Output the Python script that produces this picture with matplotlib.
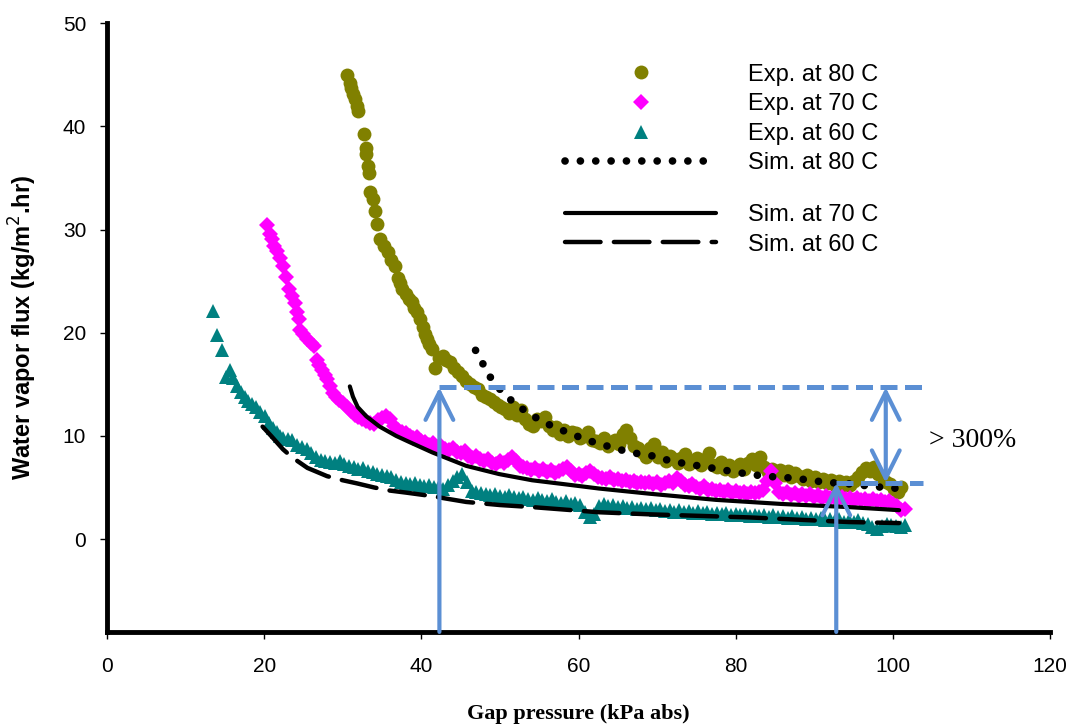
import matplotlib
matplotlib.use("Agg")
import matplotlib.pyplot as plt

# Experimental flux readings (gap pressure kPa abs, flux kg/m2.hr)
exp80_x = [30.6, 30.9, 31.1, 31.3, 31.5, 31.8, 32.0, 32.7, 32.9, 33.0, 33.2, 33.4,
           33.5, 33.8, 34.1, 34.4, 34.7, 35.2, 35.7, 36.2, 36.6, 37.0, 37.3, 37.6,
           38.0, 38.4, 38.8, 39.1, 39.4, 39.8, 40.2, 40.5, 40.7, 41.0, 41.3, 41.7,
           42.2, 42.7, 43.2, 43.7, 44.2, 44.7, 45.2, 45.7, 46.2, 46.7, 47.2, 47.7,
           48.2, 48.7, 49.2, 49.7, 50.2, 50.7, 51.2, 51.7, 52.2, 52.7, 53.2, 53.7,
           54.2, 54.7, 55.2, 55.7, 56.2, 56.7, 57.2, 57.7, 58.2, 58.7, 59.2, 59.7,
           60.2, 60.7, 61.2, 61.7, 62.2, 62.7, 63.2, 63.7, 64.2, 64.7, 65.2, 65.7,
           66.1, 66.6, 67.1, 67.6, 68.1, 68.6, 69.1, 69.6, 70.1, 70.6, 71.1, 71.6,
           72.1, 72.6, 73.1, 73.6, 74.1, 74.6, 75.1, 75.6, 76.1, 76.6, 77.1, 77.6,
           78.1, 78.6, 79.1, 79.6, 80.1, 80.6, 81.1, 81.6, 82.1, 82.6, 83.1, 83.6,
           84.1, 84.6, 85.1, 85.6, 86.1, 86.6, 87.1, 87.6, 88.1, 88.6, 89.1, 89.6,
           90.1, 90.6, 91.1, 91.6, 92.1, 92.6, 93.1, 93.6, 94.1, 94.6, 95.1, 95.6,
           96.1, 96.6, 97.1, 97.6, 98.1, 98.6, 99.1, 99.6, 100.1, 100.6, 101.0]
exp80_y = [45.0, 44.2, 43.7, 43.1, 42.7, 42.0, 41.5, 39.3, 37.9, 37.3, 36.2, 35.5,
           33.6, 33.0, 31.8, 30.5, 29.1, 28.4, 27.8, 27.1, 26.5, 25.3, 24.8, 24.2,
           23.8, 23.3, 23.0, 22.4, 22.0, 21.3, 20.6, 19.9, 19.4, 18.9, 18.4, 16.6,
           17.6, 17.7, 17.4, 17.2, 16.6, 16.2, 15.8, 15.3, 15.0, 14.7, 14.5, 14.0,
           13.8, 13.6, 13.3, 13.0, 12.8, 12.6, 12.2, 12.8, 12.0, 12.5, 11.6, 11.2,
           11.0, 11.6, 11.4, 11.8, 11.0, 10.6, 10.9, 10.2, 10.6, 10.0, 10.4, 10.3,
           9.8, 10.0, 10.4, 9.6, 9.5, 9.3, 9.8, 9.0, 9.4, 9.6, 9.2, 10.2,
           10.6, 9.8, 9.0, 8.8, 8.4, 8.0, 8.8, 9.2, 8.0, 8.4, 7.6, 8.1,
           7.8, 7.4, 7.9, 8.2, 7.3, 7.6, 7.9, 7.2, 7.8, 8.3, 7.2, 7.0,
           7.5, 6.8, 7.2, 6.6, 7.0, 7.3, 6.8, 7.4, 7.8, 7.2, 8.0, 7.0,
           6.5, 6.8, 6.3, 6.7, 6.2, 6.6, 6.0, 6.4, 6.1, 5.8, 6.2, 5.6,
           6.0, 5.5, 5.8, 5.4, 5.7, 5.2, 5.6, 5.1, 5.5, 5.2, 5.6, 6.0,
           6.5, 6.9, 6.6, 7.0, 6.3, 6.0, 5.5, 5.3, 4.9, 4.6, 5.0]

exp70_x = [20.4, 20.8, 21.0, 21.3, 21.6, 22.0, 22.4, 22.8, 23.2, 23.6, 23.9, 24.2,
           24.4, 24.5, 25.0, 25.5, 26.0, 26.4, 26.7, 27.0, 27.3, 27.7, 28.0, 28.4,
           28.7, 29.1, 29.5, 30.0, 30.5, 31.0, 31.5, 32.0, 32.5, 33.0, 33.5, 34.0,
           34.5, 35.0, 35.5, 36.0, 36.5, 37.0, 37.5, 38.0, 38.5, 39.0, 39.5, 40.0,
           40.5, 41.0, 41.5, 42.0, 42.5, 43.0, 43.5, 44.0, 44.5, 45.0, 45.5, 46.0,
           46.5, 47.0, 47.5, 48.0, 48.5, 49.0, 49.5, 50.0, 50.5, 51.0, 51.5, 52.0,
           52.5, 53.0, 53.5, 54.0, 54.5, 55.0, 55.5, 56.0, 56.5, 57.0, 57.5, 58.0,
           58.5, 59.0, 59.5, 60.0, 60.5, 61.0, 61.5, 62.0, 62.5, 63.0, 63.5, 64.0,
           64.5, 65.0, 65.5, 66.0, 66.5, 67.0, 67.5, 68.0, 68.5, 69.0, 69.5, 70.0,
           70.5, 71.0, 71.5, 72.0, 72.5, 73.0, 73.5, 74.0, 74.5, 75.0, 75.5, 76.0,
           76.5, 77.0, 77.5, 78.0, 78.5, 79.0, 79.5, 80.0, 80.5, 81.0, 81.5, 82.0,
           82.5, 83.0, 83.5, 84.0, 84.5, 85.0, 85.5, 86.0, 86.5, 87.0, 87.5, 88.0,
           88.5, 89.0, 89.5, 90.0, 90.5, 91.0, 91.5, 92.0, 92.5, 93.0, 93.5, 94.0,
           94.5, 95.0, 95.5, 96.0, 96.5, 97.0, 97.5, 98.0, 98.5, 99.0, 99.5, 100.0,
           100.5, 101.0, 101.5]
exp70_y = [30.4, 29.6, 29.1, 28.4, 27.9, 27.2, 26.5, 25.4, 24.2, 23.6, 22.9, 22.0,
           21.3, 20.3, 19.9, 19.4, 19.0, 18.7, 17.4, 16.9, 16.4, 15.9, 15.5, 14.8,
           14.2, 13.8, 13.5, 13.2, 12.8, 12.4, 12.0, 11.8, 11.6, 11.4, 11.3, 11.2,
           11.5, 11.7, 11.9, 11.6, 11.0, 10.6, 10.4, 10.3, 10.0, 9.8, 9.9, 9.5,
           9.4, 9.1, 9.3, 8.9, 9.0, 8.7, 8.6, 8.8, 8.4, 8.3, 8.5, 8.1,
           7.9, 8.1, 7.8, 7.6, 7.8, 7.4, 7.3, 7.6, 7.4, 7.7, 8.0, 7.6,
           7.1, 7.0, 6.9, 6.7, 6.9, 6.6, 6.8, 6.5, 6.7, 6.4, 6.6, 6.8,
           7.0, 6.6, 6.2, 6.3, 6.1, 6.4, 6.6, 6.3, 6.0, 5.9, 5.8, 6.0,
           5.7, 5.8, 5.6, 5.7, 5.5, 5.6, 5.4, 5.5, 5.4, 5.5, 5.3, 5.5,
           5.2, 5.4, 5.6, 5.4, 5.9, 5.6, 5.2, 5.1, 5.3, 5.0, 4.9, 5.1,
           4.8, 4.9, 4.7, 4.8, 4.6, 4.8, 4.5, 4.7, 4.5, 4.6, 4.4, 4.6,
           4.5, 4.6, 4.8, 5.6, 6.6, 5.4, 4.6, 4.4, 4.6, 4.3, 4.5, 4.2,
           4.4, 4.2, 4.4, 4.1, 4.3, 4.0, 4.2, 4.0, 4.1, 3.9, 4.1, 3.9,
           4.0, 3.8, 4.0, 3.8, 3.9, 3.7, 3.9, 3.7, 3.8, 3.6, 3.7, 3.4,
           3.2, 2.8, 2.9]

exp60_x = [13.5, 14.0, 14.6, 15.2, 15.6, 16.0, 16.5, 17.0, 17.5, 18.0, 18.5, 19.0,
           19.5, 20.1, 20.6, 21.1, 21.6, 22.0, 22.4, 23.0, 23.6, 24.2, 24.8, 25.4,
           26.0, 26.6, 27.2, 27.8, 28.4, 29.0, 29.6, 30.2, 30.8, 31.4, 32.0, 32.6,
           33.2, 33.8, 34.4, 35.0, 35.6, 36.2, 36.8, 37.4, 38.0, 38.6, 39.2, 39.8,
           40.4, 41.0, 41.6, 42.2, 42.8, 43.4, 44.0, 44.6, 45.2, 45.8, 46.4, 47.0,
           47.6, 48.2, 48.8, 49.4, 50.0, 50.6, 51.2, 51.8, 52.4, 53.0, 53.6, 54.2,
           54.8, 55.4, 56.0, 56.6, 57.2, 57.8, 58.4, 59.0, 59.6, 60.2, 60.8, 61.4,
           62.0, 62.6, 63.2, 63.8, 64.4, 65.0, 65.6, 66.2, 66.8, 67.4, 68.0, 68.6,
           69.2, 69.8, 70.4, 71.0, 71.6, 72.2, 72.8, 73.4, 74.0, 74.6, 75.2, 75.8,
           76.4, 77.0, 77.6, 78.2, 78.8, 79.4, 80.0, 80.6, 81.2, 81.8, 82.4, 83.0,
           83.6, 84.2, 84.8, 85.4, 86.0, 86.6, 87.2, 87.8, 88.4, 89.0, 89.6, 90.2,
           90.8, 91.4, 92.0, 92.6, 93.2, 93.8, 94.4, 95.0, 95.6, 96.2, 96.8, 97.4,
           98.0, 98.6, 99.2, 99.8, 100.4, 101.0, 101.5]
exp60_y = [22.1, 19.8, 18.3, 15.7, 16.4, 15.6, 14.8, 14.3, 13.8, 13.4, 13.1, 12.8,
           12.3, 11.9, 11.3, 10.8, 10.4, 10.0, 9.8, 9.7, 9.6, 9.1, 8.9, 8.7,
           8.3, 8.0, 7.7, 7.6, 7.5, 7.4, 7.6, 7.3, 7.1, 7.0, 6.8, 6.9,
           6.6, 6.5, 6.3, 6.2, 6.1, 6.0, 5.7, 5.5, 5.4, 5.3, 5.4, 5.2,
           5.1, 5.2, 5.0, 5.1, 4.9, 5.2, 5.6, 6.0, 6.3, 5.5, 4.7, 4.6,
           4.5, 4.4, 4.3, 4.4, 4.2, 4.1, 4.3, 4.1, 4.0, 4.1, 3.9, 3.8,
           4.0, 3.8, 3.7, 3.9, 3.6, 3.5, 3.7, 3.4, 3.5, 3.3, 2.6, 2.1,
           2.4, 3.2, 3.4, 3.2, 3.3, 3.1, 3.2, 3.0, 3.1, 2.9, 3.0, 2.9,
           3.0, 2.8, 2.9, 2.7, 2.8, 2.6, 2.8, 2.6, 2.7, 2.5, 2.7, 2.5,
           2.6, 2.4, 2.5, 2.4, 2.5, 2.3, 2.4, 2.3, 2.4, 2.2, 2.3, 2.2,
           2.3, 2.1, 2.3, 2.1, 2.2, 2.0, 2.2, 2.0, 2.1, 1.9, 2.0, 1.9,
           2.0, 1.8, 1.9, 1.8, 1.9, 1.7, 1.8, 1.7, 1.8, 1.6, 1.5, 1.2,
           1.0, 1.3, 1.5, 1.4, 1.3, 1.2, 1.4]

# Simulated curves
sim80_x = [46.9, 47.9, 49.0, 50.7, 52.7, 54.5, 56.5, 58.4, 60.4, 62.3, 64.2, 66.1,
           68.1, 70.0, 71.9, 73.9, 75.9, 77.8, 79.8, 81.7, 83.6, 85.5, 87.5, 89.5,
           91.5, 93.4, 95.3, 97.3, 99.1, 100.8]
sim80_y = [18.3, 16.9, 15.4, 13.9, 12.7, 11.8, 11.0, 10.4, 9.8, 9.3, 8.9, 8.5,
           8.2, 8.0, 7.5, 7.3, 7.0, 6.8, 6.5, 6.3, 6.1, 6.0, 5.9, 5.7,
           5.5, 5.4, 5.3, 5.1, 5.0, 4.9]

sim70_x = [30.9, 31.3, 31.9, 33.0, 34.7, 36.8, 38.5, 41.4, 45.7, 49.9, 54.1, 58.4,
           62.6, 69.0, 77.5, 85.9, 94.4, 100.8]
sim70_y = [14.8, 13.8, 12.8, 11.9, 10.9, 10.0, 9.4, 8.4, 7.1, 6.3, 5.7, 5.3,
           4.9, 4.4, 3.8, 3.4, 3.1, 2.8]

sim60_x = [19.8, 21.0, 22.4, 23.6, 25.5, 28.0, 30.0, 31.8, 34.0, 36.0, 38.1, 41.0,
           45.7, 50.0, 54.1, 62.6, 69.0, 81.7, 94.4, 100.8]
sim60_y = [10.9, 9.9, 8.7, 7.9, 6.9, 6.1, 5.7, 5.4, 5.0, 4.7, 4.5, 4.2,
           3.6, 3.3, 3.1, 2.6, 2.4, 2.1, 1.65, 1.55]

# annotation: flux at 42 kPa vs 93 kPa
p_low, p_high = 42.3, 92.8
flux_high, flux_low = 14.7, 5.45
blue = "#5B8FD4"

fig = plt.figure(figsize=(10.71, 7.28), dpi=100)
ax = fig.add_axes([0.0999, 0.132, 0.8805, 0.836])

ax.plot(exp80_x, exp80_y, "o", color="#808000", ms=10, mew=0, label="Exp. at 80 C")
ax.plot(exp70_x, exp70_y, "D", color="#FF00FF", ms=8, mew=0, label="Exp. at 70 C")
ax.plot(exp60_x, exp60_y, "^", color="#008080", ms=10, mew=0, label="Exp. at 60 C")
l80, = ax.plot(sim80_x, sim80_y, color="black", lw=5.5, ls=(0, (0.01, 2.0)),
               dash_capstyle="round", label="Sim. at 80 C")
l70, = ax.plot(sim70_x, sim70_y, color="black", lw=3.0, solid_capstyle="round",
               label="Sim. at 70 C")
l60, = ax.plot(sim60_x, sim60_y, color="black", lw=3.2, ls=(0, (8, 3)),
               dash_capstyle="round", label="Sim. at 60 C")

# blue annotation lines and arrows
ax.plot([p_low, 103.8], [flux_high, flux_high], color=blue, lw=3.6,
        ls=(0, (3.4, 1.5)), zorder=5, clip_on=False)
ax.plot([p_high, 103.8], [flux_low, flux_low], color=blue, lw=3.6,
        ls=(0, (3.4, 1.5)), zorder=5, clip_on=False)
arrow = dict(arrowstyle="->,head_length=1.0,head_width=0.5", lw=3, color=blue,
             mutation_scale=20, shrinkA=0, shrinkB=0)
ax.annotate("", xy=(p_low, flux_high), xytext=(p_low, -9), arrowprops=arrow, zorder=6)
ax.annotate("", xy=(p_high, flux_low), xytext=(p_high, -9), arrowprops=arrow, zorder=6)
ax.annotate("", xy=(99.1, flux_low), xytext=(99.1, flux_high),
            arrowprops=dict(arrow, arrowstyle="<->,head_length=1.0,head_width=0.5"),
            zorder=6)
ax.text(104.6, 9.6, "> 300%", fontsize=20, family="Liberation Serif",
        ha="left", va="center")

ax.set_xlim(0, 120)
ax.set_ylim(-9, 50)
ax.set_xticks(range(0, 121, 20))
ax.set_yticks(range(0, 51, 10))
for s in ["top", "right"]:
    ax.spines[s].set_visible(False)
for s in ["left", "bottom"]:
    ax.spines[s].set_linewidth(3.5)
ax.tick_params(direction="out", length=5, width=1, pad=10, labelsize=15)
ax.tick_params(axis="x", pad=13)
for lab in ax.get_xticklabels() + ax.get_yticklabels():
    lab.set_family("Liberation Sans")

ax.set_ylabel("Water vapor flux (kg/m$^2$.hr)", fontsize=17, fontweight="bold",
              family="Liberation Sans")
ax.yaxis.set_label_coords(-0.072, 0.5)
ax.set_xlabel("Gap pressure (kPa abs)", fontsize=16, fontweight="bold",
              family="Liberation Serif")
ax.xaxis.set_label_coords(0.5, -0.118)

leg_style = dict(loc="upper left", bbox_transform=fig.transFigure, frameon=False,
                 prop={"family": "Liberation Sans", "size": 17},
                 handlelength=6.4, handletextpad=1.35, labelspacing=0.32,
                 borderpad=0, borderaxespad=0)
handles = ax.get_lines()[:4]
leg1 = ax.legend(handles=handles, numpoints=1, bbox_to_anchor=(0.5275, 0.9125),
                 **leg_style)
ax.add_artist(leg1)
ax.legend(handles=[l70, l60], bbox_to_anchor=(0.5275, 0.7195), **leg_style)

fig.savefig("out.png", dpi=100)
